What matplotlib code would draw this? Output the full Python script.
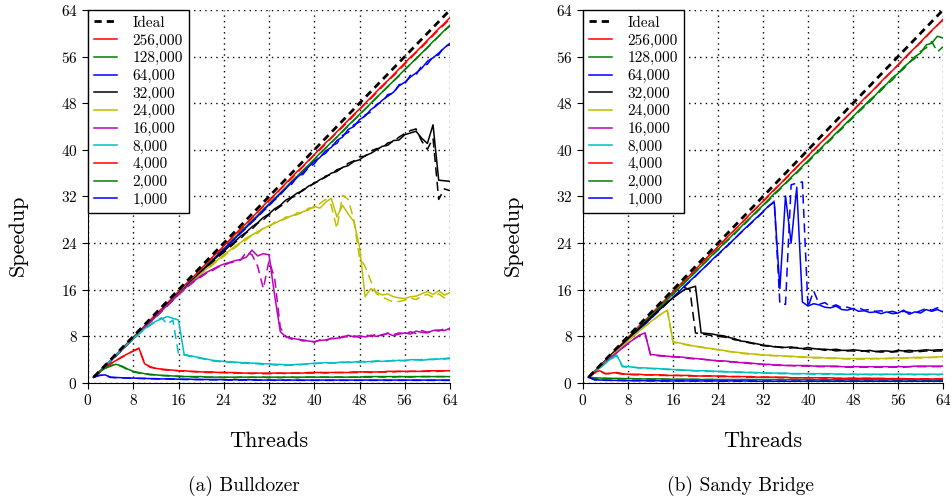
import numpy as np
import matplotlib
matplotlib.use('Agg')
import matplotlib.pyplot as plt

plt.rcParams['font.family'] = 'serif'
plt.rcParams['font.serif'] = ['cmr10']
plt.rcParams['axes.formatter.use_mathtext'] = True
plt.rcParams['mathtext.fontset'] = 'cm'

threads = list(range(1, 65))
ideal = list(range(1, 65))

sizes = ['256,000', '128,000', '64,000', '32,000', '24,000',
         '16,000', '8,000', '4,000', '2,000', '1,000']
colors = ['r', 'g', 'b', 'k', 'y', 'm', 'c', 'r', 'g', 'b']

# ---------------- Bulldozer: solid run and dashed run for each problem size
bd_256k = [1.0, 2.0, 2.9, 3.9, 4.9, 5.9, 6.9, 7.8, 8.8, 9.8,
           10.8, 11.8, 12.7, 13.7, 14.7, 15.7, 16.7, 17.6, 18.6, 19.6,
           20.6, 21.6, 22.5, 23.5, 24.5, 25.5, 26.5, 27.4, 28.4, 29.4,
           30.4, 31.4, 32.3, 33.3, 34.3, 35.3, 36.3, 37.2, 38.2, 39.2,
           40.2, 41.2, 42.1, 43.1, 44.1, 45.1, 46.1, 47.0, 48.0, 49.0,
           50.0, 51.0, 51.9, 52.9, 53.9, 54.9, 55.9, 56.8, 57.8, 58.8,
           59.8, 60.8, 61.7, 62.7]
bd_256k_b = [1.0, 1.9, 2.9, 3.9, 4.9, 5.8, 6.8, 7.8, 8.8, 9.7,
             10.7, 11.7, 12.7, 13.6, 14.6, 15.6, 16.6, 17.6, 18.5, 19.5,
             20.5, 21.5, 22.4, 23.4, 24.4, 25.4, 26.3, 27.3, 28.3, 29.3,
             30.3, 31.2, 32.2, 33.2, 34.2, 35.1, 36.1, 37.1, 38.1, 39.1,
             40.0, 41.0, 42.0, 43.0, 43.9, 44.9, 45.9, 46.9, 47.9, 48.8,
             49.8, 50.8, 51.8, 52.7, 53.7, 54.7, 55.7, 56.7, 57.6, 58.6,
             59.6, 60.6, 61.5, 62.5]
bd_128k = [1.0, 1.9, 2.9, 3.8, 4.8, 5.8, 6.7, 7.7, 8.6, 9.6,
           10.6, 11.5, 12.5, 13.4, 14.4, 15.4, 16.3, 17.3, 18.2, 19.2,
           20.2, 21.1, 22.1, 23.0, 24.0, 25.0, 25.9, 26.9, 27.8, 28.8,
           29.8, 30.7, 31.7, 32.6, 33.6, 34.6, 35.5, 36.5, 37.4, 38.4,
           39.4, 40.3, 41.3, 42.2, 43.2, 44.2, 45.1, 46.1, 47.0, 48.0,
           49.0, 49.9, 50.9, 51.8, 52.8, 53.8, 54.7, 55.7, 56.6, 57.6,
           58.6, 59.5, 60.5, 61.4]
bd_128k_b = [1.0, 1.9, 2.8, 3.8, 4.8, 5.7, 6.7, 7.6, 8.6, 9.5,
             10.5, 11.5, 12.4, 13.4, 14.3, 15.3, 16.3, 17.2, 18.2, 19.1,
             20.1, 21.1, 22.0, 23.0, 23.9, 24.9, 25.9, 26.8, 27.8, 28.7,
             29.7, 30.7, 31.6, 32.6, 33.5, 34.5, 35.5, 36.4, 37.4, 38.3,
             39.3, 40.3, 41.2, 42.2, 43.1, 44.1, 45.1, 46.0, 47.0, 47.9,
             48.9, 49.9, 50.8, 51.8, 52.7, 53.7, 54.7, 55.6, 56.6, 57.5,
             58.5, 59.5, 60.4, 61.3]
bd_64k = [1.0, 1.9, 2.9, 3.8, 4.8, 5.7, 6.7, 7.6, 8.6, 9.6,
          10.5, 11.5, 12.4, 13.4, 14.3, 15.3, 16.2, 17.2, 18.1, 19.1,
          20.1, 21.0, 22.0, 22.9, 23.9, 24.8, 25.8, 26.7, 27.7, 28.6,
          29.6, 30.6, 31.5, 32.5, 33.4, 34.4, 35.3, 36.1, 37.1, 38.0,
          38.7, 39.8, 40.4, 41.6, 42.2, 43.5, 44.0, 45.2, 45.8, 46.9,
          47.6, 48.5, 49.2, 49.9, 51.0, 51.6, 52.5, 53.2, 54.0, 55.2,
          55.8, 56.6, 57.5, 58.3]
bd_64k_b = [1.0, 1.9, 2.8, 3.8, 4.7, 5.7, 6.6, 7.6, 8.5, 9.5,
            10.4, 11.4, 12.3, 13.3, 14.2, 15.2, 16.2, 17.1, 18.1, 19.0,
            20.0, 20.9, 21.9, 22.8, 23.8, 24.7, 25.7, 26.6, 27.6, 28.5,
            29.5, 30.4, 31.4, 32.3, 33.4, 34.1, 35.4, 35.8, 37.0, 37.6,
            38.9, 39.4, 40.7, 41.1, 42.5, 43.0, 44.3, 44.8, 46.0, 46.5,
            47.8, 48.2, 49.5, 49.7, 51.2, 51.3, 52.8, 52.9, 54.4, 54.7,
            56.0, 56.3, 57.8, 58.0]
bd_32k = [1.0, 1.9, 2.9, 3.8, 4.8, 5.8, 6.7, 7.7, 8.6, 9.6,
          10.5, 11.5, 12.4, 13.4, 14.3, 15.3, 16.2, 17.1, 18.1, 19.1,
          20.0, 20.9, 21.8, 22.6, 23.5, 24.3, 25.2, 25.9, 26.8, 27.5,
          28.4, 29.0, 29.9, 30.5, 31.4, 31.9, 32.6, 33.0, 33.8, 34.2,
          34.9, 35.3, 36.0, 36.3, 37.0, 37.3, 38.0, 38.3, 39.0, 39.4,
          40.0, 40.6, 40.8, 41.6, 41.7, 42.6, 42.9, 43.2, 42.0, 41.1,
          44.3, 34.8, 34.7, 34.6]
bd_32k_b = [1.0, 1.9, 2.8, 3.8, 4.7, 5.7, 6.6, 7.6, 8.6, 9.5,
            10.5, 11.4, 12.4, 13.3, 14.3, 15.2, 16.1, 17.1, 18.0, 18.9,
            19.9, 20.6, 21.6, 22.4, 23.2, 24.1, 24.8, 25.8, 26.4, 27.4,
            28.0, 28.9, 29.6, 30.3, 30.9, 31.8, 32.2, 33.2, 33.5, 34.4,
            34.6, 35.5, 35.8, 36.6, 36.9, 37.7, 38.1, 38.8, 38.9, 39.8,
            40.2, 40.3, 41.2, 41.4, 42.2, 42.8, 43.3, 43.6, 41.5, 40.1,
            42.0, 31.5, 33.3, 33.0]
bd_24k = [1.0, 1.9, 2.9, 3.8, 4.8, 5.7, 6.7, 7.6, 8.6, 9.5,
          10.5, 11.4, 12.4, 13.3, 14.3, 15.2, 16.1, 17.0, 17.9, 18.8,
          19.6, 20.4, 21.2, 22.0, 22.7, 23.5, 24.1, 24.9, 25.4, 26.0,
          26.5, 27.0, 27.4, 27.9, 28.2, 28.7, 28.9, 29.4, 29.7, 30.3,
          30.0, 31.0, 31.7, 28.5, 30.5, 29.0, 27.7, 23.4, 14.8, 16.2,
          15.6, 15.1, 15.3, 14.8, 14.6, 14.5, 14.8, 14.9, 15.3, 15.7,
          15.2, 15.8, 15.1, 15.5]
bd_24k_b = [1.0, 1.9, 2.8, 3.8, 4.7, 5.7, 6.6, 7.6, 8.5, 9.5,
            10.4, 11.4, 12.3, 13.3, 14.2, 15.1, 16.0, 16.9, 17.8, 18.7,
            19.5, 20.2, 21.1, 21.7, 22.6, 23.2, 24.0, 24.6, 25.4, 25.7,
            26.6, 26.8, 27.6, 27.7, 28.5, 28.5, 29.2, 29.2, 30.0, 30.1,
            30.8, 31.5, 30.5, 26.5, 32.2, 31.5, 28.0, 21.5, 20.0, 17.5,
            15.3, 14.8, 14.3, 13.9, 14.0, 14.2, 14.6, 14.3, 14.9, 15.2,
            14.7, 15.3, 14.6, 14.9]
bd_16k = [1.0, 1.9, 2.9, 3.8, 4.8, 5.7, 6.7, 7.6, 8.6, 9.5,
          10.5, 11.4, 12.4, 13.3, 14.3, 15.2, 16.1, 17.0, 17.7, 18.4,
          19.0, 19.5, 20.0, 20.4, 20.7, 21.0, 21.2, 21.6, 22.8, 21.8,
          22.2, 22.0, 15.0, 8.8, 7.9, 7.7, 7.5, 7.4, 7.2, 7.1,
          7.3, 7.4, 7.6, 7.7, 7.8, 8.2, 7.9, 8.1, 7.9, 8.2,
          8.0, 8.3, 8.5, 8.1, 8.4, 8.6, 8.4, 8.9, 8.7, 8.6,
          9.0, 9.1, 9.0, 9.4]
bd_16k_b = [1.0, 1.9, 2.8, 3.8, 4.7, 5.7, 6.6, 7.6, 8.5, 9.5,
            10.4, 11.3, 12.3, 13.2, 14.2, 15.1, 16.0, 16.8, 17.6, 18.2,
            18.9, 19.3, 19.9, 20.2, 20.6, 20.8, 21.1, 22.5, 22.0, 20.0,
            16.2, 21.0, 18.0, 9.5, 8.0, 7.5, 7.6, 7.2, 7.3, 7.0,
            7.4, 7.2, 7.7, 7.5, 8.0, 7.9, 8.1, 7.8, 8.3, 8.0,
            8.4, 8.1, 8.6, 8.3, 8.6, 8.4, 8.8, 8.5, 9.0, 8.7,
            9.1, 8.9, 9.3, 9.1]
bd_8k = [1.0, 1.9, 2.9, 3.9, 4.8, 5.8, 6.7, 7.6, 8.5, 9.3,
         10.0, 10.6, 11.0, 11.4, 11.1, 10.8, 4.9, 4.7, 4.5, 4.3,
         4.1, 3.9, 3.8, 3.7, 3.6, 3.6, 3.5, 3.5, 3.4, 3.4,
         3.3, 3.3, 3.2, 3.2, 3.1, 3.1, 3.2, 3.2, 3.3, 3.4,
         3.4, 3.5, 3.4, 3.5, 3.6, 3.5, 3.6, 3.7, 3.6, 3.7,
         3.8, 3.7, 3.8, 3.8, 3.9, 3.8, 4.0, 4.0, 3.9, 4.0,
         4.1, 4.1, 4.2, 4.3]
bd_8k_b = [1.0, 1.9, 2.9, 3.8, 4.8, 5.7, 6.6, 7.5, 8.4, 9.2,
           9.9, 10.6, 11.2, 10.1, 10.8, 5.0, 4.8, 4.6, 4.4, 4.2,
           4.0, 3.8, 3.7, 3.6, 3.6, 3.5, 3.4, 3.4, 3.3, 3.3,
           3.2, 3.2, 3.1, 3.1, 3.0, 3.1, 3.1, 3.2, 3.3, 3.3,
           3.4, 3.4, 3.5, 3.4, 3.5, 3.6, 3.5, 3.6, 3.7, 3.6,
           3.7, 3.8, 3.7, 3.9, 3.8, 3.9, 3.9, 4.0, 4.0, 4.1,
           4.0, 4.2, 4.1, 4.2]
bd_4k = [1.0, 1.9, 2.6, 3.3, 3.9, 4.5, 5.0, 5.5, 6.0, 3.3,
         2.8, 2.5, 2.4, 2.3, 2.2, 2.1, 2.1, 2.0, 2.0, 1.9,
         1.9, 1.9, 1.8, 1.8, 1.8, 1.8, 1.7, 1.7, 1.7, 1.7,
         1.7, 1.7, 1.7, 1.7, 1.7, 1.7, 1.7, 1.7, 1.8, 1.8,
         1.8, 1.8, 1.8, 1.8, 1.8, 1.8, 1.9, 1.9, 1.9, 1.9,
         1.9, 1.9, 2.0, 2.0, 2.0, 2.0, 2.0, 2.0, 2.0, 2.1,
         2.1, 2.1, 2.1, 2.1]
bd_4k_b = [1.0, 1.8, 2.6, 3.3, 3.9, 4.4, 5.0, 5.5, 5.9, 3.4,
           2.7, 2.5, 2.3, 2.2, 2.2, 2.1, 2.0, 2.0, 1.9, 1.9,
           1.8, 1.8, 1.8, 1.8, 1.7, 1.7, 1.7, 1.7, 1.6, 1.7,
           1.6, 1.6, 1.6, 1.7, 1.6, 1.7, 1.7, 1.7, 1.7, 1.7,
           1.8, 1.7, 1.8, 1.8, 1.8, 1.8, 1.8, 1.8, 1.9, 1.8,
           1.9, 1.9, 1.9, 1.9, 2.0, 1.9, 2.0, 2.0, 2.0, 2.0,
           2.0, 2.0, 2.1, 2.0]
bd_2k = [1.0, 1.9, 2.5, 3.0, 3.2, 2.9, 2.4, 2.0, 1.8, 1.6,
         1.5, 1.4, 1.3, 1.3, 1.2, 1.2, 1.1, 1.1, 1.1, 1.1,
         1.0, 1.0, 1.0, 1.0, 1.0, 1.0, 1.0, 1.0, 1.0, 1.0,
         1.0, 1.0, 1.0, 1.0, 1.0, 1.0, 1.0, 1.0, 1.0, 1.0,
         1.0, 1.0, 1.0, 1.0, 1.0, 1.0, 1.0, 1.0, 1.1, 1.1,
         1.1, 1.1, 1.1, 1.1, 1.1, 1.1, 1.1, 1.1, 1.1, 1.1,
         1.1, 1.1, 1.1, 1.1]
bd_2k_b = [1.0, 1.8, 2.5, 2.9, 3.2, 2.8, 2.3, 1.9, 1.7, 1.6,
           1.4, 1.4, 1.3, 1.2, 1.2, 1.1, 1.1, 1.1, 1.0, 1.0,
           1.0, 1.0, 1.0, 0.9, 1.0, 0.9, 1.0, 0.9, 1.0, 0.9,
           1.0, 0.9, 1.0, 0.9, 1.0, 1.0, 0.9, 1.0, 1.0, 1.0,
           1.0, 1.0, 1.0, 1.0, 1.0, 1.0, 1.0, 1.0, 1.0, 1.0,
           1.1, 1.0, 1.1, 1.0, 1.1, 1.1, 1.0, 1.1, 1.1, 1.1,
           1.1, 1.1, 1.1, 1.1]
bd_1k = [1.0, 1.3, 1.4, 1.0, 0.95, 0.9, 0.85, 0.85, 0.8, 0.8,
         0.75, 0.75, 0.7, 0.7, 0.7, 0.65, 0.65, 0.65, 0.6, 0.6,
         0.6, 0.6, 0.6, 0.55, 0.55, 0.55, 0.55, 0.55, 0.55, 0.5,
         0.5, 0.5, 0.5, 0.5, 0.5, 0.5, 0.5, 0.5, 0.5, 0.5,
         0.5, 0.5, 0.5, 0.5, 0.5, 0.5, 0.5, 0.5, 0.5, 0.5,
         0.5, 0.5, 0.5, 0.5, 0.5, 0.5, 0.5, 0.5, 0.5, 0.5,
         0.5, 0.5, 0.5, 0.5]
bd_1k_b = [1.0, 1.3, 1.35, 0.95, 0.9, 0.9, 0.85, 0.8, 0.8, 0.75,
           0.75, 0.7, 0.7, 0.7, 0.65, 0.65, 0.6, 0.6, 0.6, 0.6,
           0.55, 0.55, 0.55, 0.55, 0.5, 0.5, 0.5, 0.5, 0.5, 0.5,
           0.45, 0.5, 0.45, 0.5, 0.45, 0.5, 0.45, 0.45, 0.45, 0.45,
           0.45, 0.45, 0.45, 0.45, 0.45, 0.45, 0.45, 0.45, 0.45, 0.45,
           0.45, 0.45, 0.45, 0.45, 0.45, 0.45, 0.45, 0.45, 0.45, 0.45,
           0.45, 0.45, 0.45, 0.45]

# ---------------- Sandy Bridge
sb_256k = [1.0, 2.0, 2.9, 3.9, 4.9, 5.9, 6.8, 7.8, 8.8, 9.8,
           10.7, 11.7, 12.7, 13.7, 14.6, 15.6, 16.6, 17.6, 18.5, 19.5,
           20.5, 21.5, 22.4, 23.4, 24.4, 25.4, 26.3, 27.3, 28.3, 29.3,
           30.2, 31.2, 32.2, 33.2, 34.1, 35.1, 36.1, 37.1, 38.0, 39.0,
           40.0, 41.0, 41.9, 42.9, 43.9, 44.9, 45.8, 46.8, 47.8, 48.8,
           49.7, 50.7, 51.7, 52.7, 53.6, 54.6, 55.6, 56.6, 57.5, 58.5,
           59.5, 60.5, 61.4, 62.4]
sb_256k_b = [1.0, 1.9, 2.9, 3.9, 4.8, 5.8, 6.8, 7.8, 8.7, 9.7,
             10.7, 11.7, 12.6, 13.6, 14.6, 15.6, 16.5, 17.5, 18.5, 19.4,
             20.4, 21.4, 22.4, 23.3, 24.3, 25.3, 26.3, 27.2, 28.2, 29.2,
             30.2, 31.1, 32.1, 33.1, 34.1, 35.0, 36.0, 37.0, 38.0, 38.9,
             39.9, 40.9, 41.9, 42.8, 43.8, 44.8, 45.8, 46.7, 47.7, 48.7,
             49.7, 50.6, 51.6, 52.6, 53.6, 54.5, 55.5, 56.5, 57.5, 58.4,
             59.4, 60.4, 61.4, 62.3]
sb_128k = [1.0, 1.9, 2.9, 3.8, 4.8, 5.7, 6.7, 7.6, 8.6, 9.5,
           10.5, 11.5, 12.4, 13.4, 14.3, 15.3, 16.2, 17.2, 18.1, 19.1,
           20.0, 21.0, 22.0, 22.9, 23.9, 24.8, 25.8, 26.7, 27.7, 28.6,
           29.6, 30.5, 31.5, 32.5, 33.4, 34.3, 35.3, 36.2, 37.2, 38.1,
           39.1, 40.0, 41.0, 41.9, 42.9, 43.8, 44.8, 45.7, 46.7, 47.6,
           48.6, 49.4, 50.5, 51.3, 52.4, 53.1, 54.2, 55.0, 56.0, 56.6,
           58.0, 58.3, 59.5, 59.2]
sb_128k_b = [1.0, 1.9, 2.8, 3.8, 4.7, 5.7, 6.6, 7.6, 8.5, 9.5,
             10.4, 11.4, 12.3, 13.3, 14.2, 15.2, 16.2, 17.1, 18.1, 19.0,
             20.0, 20.9, 21.9, 22.8, 23.8, 24.7, 25.6, 26.6, 27.5, 28.5,
             29.4, 30.4, 31.3, 32.3, 33.2, 34.2, 35.1, 36.0, 37.0, 37.9,
             38.9, 39.8, 40.8, 41.7, 42.7, 43.6, 44.6, 45.5, 46.5, 47.4,
             48.3, 49.3, 50.2, 51.2, 52.0, 53.1, 53.9, 55.0, 55.7, 56.9,
             57.5, 58.6, 56.8, 57.7]
sb_64k = [1.0, 1.8, 2.8, 3.7, 4.6, 5.5, 6.4, 7.4, 8.3, 9.2,
          10.1, 11.0, 12.0, 12.9, 13.8, 14.7, 15.6, 16.6, 17.5, 18.4,
          19.3, 20.2, 21.2, 22.1, 23.0, 23.9, 24.8, 25.8, 26.7, 27.6,
          28.5, 29.4, 30.4, 31.0, 16.2, 32.1, 24.0, 33.6, 13.9, 13.2,
          13.6, 13.4, 13.0, 12.9, 13.2, 12.6, 12.5, 12.8, 12.3, 12.4,
          12.1, 12.2, 11.9, 12.2, 11.9, 12.0, 12.5, 11.8, 12.2, 12.0,
          12.6, 12.3, 12.6, 12.2]
sb_64k_b = [1.0, 1.8, 2.7, 3.7, 4.6, 5.5, 6.4, 7.3, 8.3, 9.2,
            10.1, 11.0, 11.9, 12.8, 13.8, 14.7, 15.6, 16.5, 17.4, 18.3,
            19.3, 20.2, 21.1, 22.0, 22.9, 23.8, 24.8, 25.7, 26.6, 27.5,
            28.4, 29.3, 30.3, 31.2, 13.6, 13.5, 34.0, 34.3, 34.5, 13.0,
            15.8, 13.5, 13.8, 13.1, 13.4, 12.9, 13.0, 12.7, 12.9, 12.5,
            12.6, 12.3, 12.4, 12.1, 12.3, 12.0, 12.3, 12.1, 12.0, 12.4,
            12.8, 12.5, 12.9, 12.6]
sb_32k = [1.0, 1.9, 2.9, 3.8, 4.8, 5.7, 6.6, 7.6, 8.5, 9.4,
          10.3, 11.2, 12.1, 13.0, 13.8, 14.6, 15.3, 16.0, 16.3, 16.6,
          8.6, 8.5, 8.4, 8.2, 8.1, 7.8, 7.6, 7.2, 7.1, 6.9,
          6.7, 6.5, 6.4, 6.2, 6.2, 6.1, 6.2, 6.0, 5.9, 6.1,
          5.9, 5.8, 5.8, 5.7, 5.8, 5.6, 5.6, 5.7, 5.6, 5.5,
          5.6, 5.4, 5.5, 5.5, 5.4, 5.6, 5.5, 5.6, 5.5, 5.6,
          5.7, 5.6, 5.7, 5.7]
sb_32k_b = [1.0, 1.9, 2.8, 3.8, 4.7, 5.7, 6.6, 7.5, 8.4, 9.4,
            10.3, 11.2, 12.0, 12.9, 13.8, 14.6, 15.4, 16.4, 16.0, 8.6,
            8.4, 8.3, 8.1, 8.0, 7.9, 7.7, 7.4, 7.3, 7.0, 6.8,
            6.6, 6.4, 6.3, 6.3, 6.1, 6.0, 6.0, 6.1, 5.8, 5.8,
            5.7, 5.8, 5.6, 5.7, 5.5, 5.6, 5.5, 5.5, 5.4, 5.5,
            5.3, 5.4, 5.3, 5.4, 5.3, 5.4, 5.4, 5.3, 5.4, 5.4,
            5.5, 5.4, 5.5, 5.5]
sb_24k = [1.0, 1.9, 2.8, 3.7, 4.6, 5.5, 6.3, 7.2, 8.1, 8.9,
          9.7, 10.5, 11.2, 11.9, 12.5, 7.1, 6.9, 6.7, 6.5, 6.3,
          6.2, 6.0, 5.9, 5.7, 5.6, 5.4, 5.3, 5.2, 5.1, 5.0,
          4.9, 4.8, 4.8, 4.7, 4.7, 4.6, 4.6, 4.5, 4.5, 4.4,
          4.4, 4.4, 4.3, 4.3, 4.3, 4.2, 4.2, 4.2, 4.2, 4.2,
          4.2, 4.2, 4.2, 4.2, 4.3, 4.3, 4.3, 4.3, 4.4, 4.4,
          4.4, 4.4, 4.5, 4.5]
sb_24k_b = [1.0, 1.9, 2.8, 3.7, 4.6, 5.4, 6.3, 7.2, 8.0, 8.9,
            9.7, 10.4, 11.2, 11.9, 12.4, 7.0, 6.8, 6.6, 6.4, 6.3,
            6.1, 6.0, 5.8, 5.7, 5.5, 5.4, 5.3, 5.1, 5.0, 4.9,
            4.9, 4.8, 4.7, 4.7, 4.6, 4.6, 4.5, 4.5, 4.4, 4.4,
            4.3, 4.3, 4.3, 4.2, 4.2, 4.2, 4.1, 4.1, 4.1, 4.1,
            4.1, 4.2, 4.1, 4.2, 4.2, 4.2, 4.2, 4.3, 4.3, 4.3,
            4.3, 4.4, 4.4, 4.4]
sb_16k = [1.0, 1.9, 2.7, 3.6, 4.4, 5.2, 6.0, 6.8, 7.5, 8.2,
          8.6, 4.9, 4.8, 4.7, 4.6, 4.5, 4.5, 4.4, 4.3, 4.2,
          4.1, 4.0, 3.9, 3.8, 3.8, 3.7, 3.6, 3.5, 3.5, 3.4,
          3.3, 3.2, 3.2, 3.1, 3.1, 3.0, 3.0, 3.0, 3.0, 3.0,
          2.9, 2.9, 2.9, 2.9, 2.9, 2.8, 2.8, 2.8, 2.8, 2.8,
          2.8, 2.8, 2.8, 2.8, 2.8, 2.8, 2.8, 2.8, 2.9, 2.9,
          2.9, 2.9, 2.9, 2.9]
sb_16k_b = [1.0, 1.9, 2.7, 3.5, 4.4, 5.2, 6.0, 6.7, 7.5, 8.1,
            8.7, 4.8, 4.7, 4.6, 4.6, 4.5, 4.4, 4.3, 4.2, 4.1,
            4.1, 4.0, 3.9, 3.8, 3.7, 3.6, 3.6, 3.5, 3.4, 3.3,
            3.3, 3.2, 3.1, 3.1, 3.0, 3.0, 3.0, 2.9, 2.9, 2.9,
            2.9, 2.8, 2.8, 2.8, 2.8, 2.8, 2.7, 2.7, 2.7, 2.7,
            2.7, 2.7, 2.7, 2.7, 2.7, 2.7, 2.7, 2.8, 2.8, 2.8,
            2.8, 2.8, 2.8, 2.8]
sb_8k = [1.0, 1.8, 2.6, 3.4, 4.2, 4.8, 2.9, 2.8, 2.7, 2.6,
         2.6, 2.5, 2.5, 2.4, 2.4, 2.3, 2.3, 2.2, 2.2, 2.1,
         2.1, 2.1, 2.0, 2.0, 2.0, 1.9, 1.9, 1.9, 1.8, 1.8,
         1.8, 1.7, 1.7, 1.7, 1.7, 1.7, 1.6, 1.6, 1.6, 1.6,
         1.6, 1.6, 1.6, 1.6, 1.5, 1.5, 1.5, 1.5, 1.5, 1.5,
         1.5, 1.5, 1.5, 1.5, 1.5, 1.5, 1.5, 1.5, 1.5, 1.5,
         1.5, 1.5, 1.5, 1.5]
sb_8k_b = [1.0, 1.8, 2.6, 3.4, 4.1, 4.7, 2.8, 2.7, 2.7, 2.6,
           2.5, 2.5, 2.4, 2.4, 2.3, 2.3, 2.2, 2.2, 2.1, 2.1,
           2.1, 2.0, 2.0, 2.0, 1.9, 1.9, 1.9, 1.8, 1.8, 1.8,
           1.7, 1.7, 1.7, 1.7, 1.6, 1.6, 1.6, 1.6, 1.6, 1.6,
           1.5, 1.6, 1.5, 1.5, 1.5, 1.5, 1.5, 1.5, 1.4, 1.5,
           1.4, 1.5, 1.4, 1.5, 1.4, 1.5, 1.4, 1.5, 1.4, 1.5,
           1.4, 1.5, 1.4, 1.5]
sb_4k = [1.0, 1.8, 2.1, 1.6, 1.7, 1.8, 1.6, 1.5, 1.5, 1.5,
         1.4, 1.4, 1.4, 1.4, 1.3, 1.3, 1.3, 1.3, 1.3, 1.2,
         1.2, 1.2, 1.2, 1.2, 1.2, 1.1, 1.1, 1.1, 1.1, 1.1,
         1.0, 1.0, 1.0, 1.0, 1.0, 1.0, 0.9, 0.9, 0.9, 0.9,
         0.9, 0.9, 0.9, 0.9, 0.8, 0.8, 0.8, 0.8, 0.8, 0.8,
         0.8, 0.8, 0.8, 0.75, 0.75, 0.75, 0.75, 0.7, 0.7, 0.7,
         0.7, 0.7, 0.7, 0.7]
sb_4k_b = [1.0, 1.7, 2.0, 1.6, 1.6, 1.7, 1.5, 1.5, 1.4, 1.4,
           1.4, 1.4, 1.3, 1.3, 1.3, 1.3, 1.3, 1.2, 1.2, 1.2,
           1.2, 1.2, 1.2, 1.1, 1.1, 1.1, 1.1, 1.1, 1.0, 1.0,
           1.0, 1.0, 1.0, 1.0, 0.9, 0.9, 0.9, 0.9, 0.9, 0.9,
           0.9, 0.9, 0.8, 0.8, 0.8, 0.8, 0.8, 0.8, 0.8, 0.8,
           0.8, 0.75, 0.75, 0.75, 0.75, 0.7, 0.7, 0.7, 0.7, 0.7,
           0.7, 0.7, 0.7, 0.7]
sb_2k = [1.0, 0.9, 0.85, 0.8, 0.8, 0.8, 0.75, 0.75, 0.75, 0.7,
         0.7, 0.7, 0.7, 0.7, 0.65, 0.65, 0.65, 0.65, 0.65, 0.65,
         0.6, 0.6, 0.6, 0.6, 0.6, 0.6, 0.6, 0.6, 0.6, 0.6,
         0.6, 0.6, 0.6, 0.6, 0.6, 0.6, 0.6, 0.6, 0.6, 0.6,
         0.55, 0.55, 0.55, 0.55, 0.55, 0.55, 0.55, 0.55, 0.55, 0.55,
         0.55, 0.55, 0.55, 0.55, 0.55, 0.55, 0.55, 0.55, 0.55, 0.55,
         0.5, 0.5, 0.5, 0.5]
sb_2k_b = [1.0, 0.85, 0.8, 0.8, 0.75, 0.75, 0.75, 0.7, 0.7, 0.7,
           0.7, 0.65, 0.65, 0.65, 0.65, 0.6, 0.6, 0.6, 0.6, 0.6,
           0.6, 0.6, 0.6, 0.55, 0.55, 0.55, 0.55, 0.55, 0.55, 0.55,
           0.55, 0.55, 0.55, 0.55, 0.55, 0.55, 0.55, 0.55, 0.5, 0.5,
           0.5, 0.5, 0.5, 0.5, 0.5, 0.5, 0.5, 0.5, 0.5, 0.5,
           0.5, 0.5, 0.5, 0.5, 0.5, 0.5, 0.5, 0.5, 0.5, 0.5,
           0.5, 0.5, 0.5, 0.5]
sb_1k = [1.0, 0.6, 0.5, 0.5, 0.45, 0.45, 0.45, 0.4, 0.4, 0.4,
         0.4, 0.4, 0.4, 0.35, 0.35, 0.35, 0.35, 0.35, 0.35, 0.35,
         0.35, 0.35, 0.35, 0.35, 0.35, 0.35, 0.35, 0.35, 0.35, 0.35,
         0.3, 0.3, 0.3, 0.3, 0.3, 0.3, 0.3, 0.3, 0.3, 0.3,
         0.3, 0.3, 0.3, 0.3, 0.3, 0.3, 0.3, 0.3, 0.3, 0.3,
         0.3, 0.3, 0.3, 0.3, 0.3, 0.3, 0.3, 0.3, 0.3, 0.3,
         0.3, 0.3, 0.3, 0.3]
sb_1k_b = [1.0, 0.55, 0.5, 0.45, 0.45, 0.45, 0.4, 0.4, 0.4, 0.4,
           0.4, 0.35, 0.35, 0.35, 0.35, 0.35, 0.35, 0.35, 0.35, 0.35,
           0.35, 0.35, 0.35, 0.3, 0.3, 0.3, 0.3, 0.3, 0.3, 0.3,
           0.3, 0.3, 0.3, 0.3, 0.3, 0.3, 0.3, 0.3, 0.3, 0.3,
           0.3, 0.3, 0.3, 0.3, 0.3, 0.3, 0.3, 0.3, 0.3, 0.3,
           0.3, 0.3, 0.3, 0.3, 0.3, 0.3, 0.3, 0.3, 0.3, 0.3,
           0.3, 0.3, 0.3, 0.3]

bd_solid = [bd_256k, bd_128k, bd_64k, bd_32k, bd_24k, bd_16k, bd_8k, bd_4k, bd_2k, bd_1k]
bd_dash = [bd_256k_b, bd_128k_b, bd_64k_b, bd_32k_b, bd_24k_b, bd_16k_b, bd_8k_b, bd_4k_b, bd_2k_b, bd_1k_b]
sb_solid = [sb_256k, sb_128k, sb_64k, sb_32k, sb_24k, sb_16k, sb_8k, sb_4k, sb_2k, sb_1k]
sb_dash = [sb_256k_b, sb_128k_b, sb_64k_b, sb_32k_b, sb_24k_b, sb_16k_b, sb_8k_b, sb_4k_b, sb_2k_b, sb_1k_b]


def xs(vals):
    if len(vals) != len(threads):
        print('length mismatch:', len(vals))
    return threads[:len(vals)]


def draw_panel(ax, solid, dashed):
    for vals, col in zip(dashed, colors):
        ax.plot(xs(vals), vals, color=col, lw=1.1, dashes=(6, 3.5))
    handles = []
    for vals, col, lab in zip(solid, colors, sizes):
        h, = ax.plot(xs(vals), vals, color=col, lw=1.1, label=lab)
        handles.append(h)
    hi, = ax.plot(threads, ideal, color='k', lw=2, dashes=(2.6, 1.8),
                  label='Ideal', zorder=3)

    ax.set_xlim(0, 64)
    ax.set_ylim(0, 64)
    ax.set_xticks(range(0, 65, 8))
    ax.set_yticks(range(0, 65, 8))
    ax.grid(True, linestyle=(0, (1, 3)), color='k', lw=1.0)
    for s in ['top', 'right']:
        ax.spines[s].set_visible(False)
    ax.tick_params(direction='out', length=4, labelsize=11, top=False, right=False)

    leg = ax.legend(handles=[hi] + handles, loc='upper left', fontsize=11,
                    fancybox=False, edgecolor='k', framealpha=1,
                    borderaxespad=0, borderpad=0.4, labelspacing=0.24,
                    handlelength=1.5, handletextpad=1.0)
    leg.get_frame().set_linewidth(1.0)


fig = plt.figure(figsize=(9.51, 5.04), dpi=100)
ax1 = fig.add_axes([88 / 951, 121 / 504, 362 / 951, 373 / 504])
ax2 = fig.add_axes([583 / 951, 121 / 504, 360 / 951, 373 / 504])

draw_panel(ax1, bd_solid, bd_dash)
draw_panel(ax2, sb_solid, sb_dash)

W, H = 951, 504
fig.text(18 / W, 1 - 235 / H, 'Speedup', rotation=90, ha='center', va='center', fontsize=16)
fig.text(513 / W, 1 - 235 / H, 'Speedup', rotation=90, ha='center', va='center', fontsize=16)
fig.text(269 / W, 1 - 441 / H, 'Threads', ha='center', va='center', fontsize=16)
fig.text(763 / W, 1 - 441 / H, 'Threads', ha='center', va='center', fontsize=16)
fig.text(244 / W, 1 - 486 / H, '(a) Bulldozer', ha='center', va='center', fontsize=14)
fig.text(740 / W, 1 - 486 / H, '(b) Sandy Bridge', ha='center', va='center', fontsize=14)

fig.savefig('out.png', dpi=100)
